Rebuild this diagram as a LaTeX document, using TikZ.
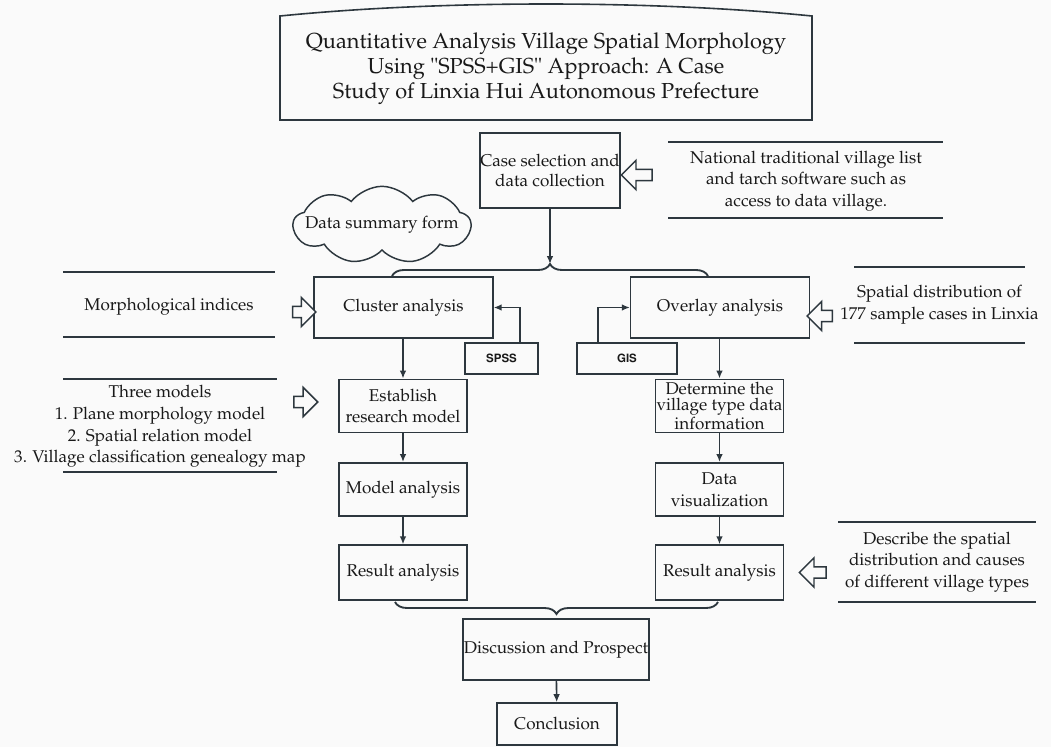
\documentclass[tikz,border=0pt]{standalone}
\usepackage[T1]{fontenc}
\usepackage{mathpazo}
\usepackage{helvet}
\usetikzlibrary{arrows.meta,shapes.arrows,shapes.symbols,decorations.pathreplacing}
\definecolor{linegray}{RGB}{45,55,62}
\definecolor{inkgray}{RGB}{25,25,25}
\definecolor{paper}{RGB}{250,250,250}
\begin{document}
\begin{tikzpicture}[x=0.75pt,y=0.75pt,yscale=-1,xscale=1,
    txt/.style={font=\fontsize{12.8}{16.2}\selectfont, text=inkgray, align=center, inner sep=0pt},
    procbox/.style={txt, draw=linegray, line width=1.2pt, minimum width=96pt, minimum height=40pt},
    toolbox/.style={draw=linegray, line width=1.2pt, font=\fontsize{8.6}{10}\selectfont\sffamily\bfseries, text=inkgray, minimum height=23pt, inner sep=0pt},
    rule/.style={draw=linegray, line width=1.2pt},
    flow/.style={draw=linegray, line width=1.2pt, -{Latex[length=6pt,width=5pt]}},
    hollow/.style={single arrow, draw=linegray, line width=1.1pt, fill=paper, minimum height=19pt, inner xsep=0pt, inner ysep=3.6pt, single arrow head extend=6.8pt, single arrow head indent=0pt},
    curly/.style={draw=linegray, line width=1.4pt, decorate, decoration={brace, amplitude=9pt}}
  ]
  % background
  \fill[paper] (0,0) rectangle (1051,747);
  \useasboundingbox (0,0) rectangle (1051,747);

  %Shape: Title card
  \draw[linegray, line width=1.2pt] (280,120) -- (280,16) .. controls (440,0) and (652,0) .. (812,16) -- (812,120) -- cycle;
  % Text Node
  \node[txt, font=\fontsize{16.3}{18.8}\selectfont] (title) at (546,69) {Quantitative Analysis Village Spatial Morphology\\ Using "SPSS+GIS" Approach: A Case\\ Study of Linxia Hui Autonomous Prefecture};

  % Case selection
  \node[procbox, minimum width=105pt, minimum height=56pt, font=\fontsize{12.8}{15.2}\selectfont] (case) at (550,170.5) {Case selection and\\ data collection};
  \node[txt] (natlist) at (806,181) {National traditional village list\\ and tarch software such as\\ access to data village.};
  \draw[rule] (668,142) -- (943,142);
  \draw[rule] (668,218) -- (943,218);
  \node[hollow, minimum height=23pt, shape border rotate=180] (natarrow) at (639.5,175) {};

  %Shape: Cloud
  \node[cloud, draw=linegray, line width=1.1pt, cloud puffs=9, cloud puff arc=105, cloud ignores aspect, minimum width=133pt, minimum height=58pt, inner sep=0pt] (summary) at (382,225) {};
  \node[txt] (summarytext) at (summary.center) {Data summary form};

  % upper brace
  \coordinate (topTip) at (550,264);
  \draw[curly] (392,276) -- (708,276);
  \draw[flow] (case.south) -- (topTip);

  % Cluster side
  \node[procbox, minimum width=134pt, minimum height=46pt] (cluster) at (403.5,307.5) {Cluster analysis};
  \node[txt] (morph) at (169,307) {Morphological indices};
  \draw[rule] (63,272) -- (275,272);
  \draw[rule] (63,337) -- (275,337);
  \node[hollow, minimum height=17.5pt] (morpharrow) at (301.5,312) {};

  \node[toolbox, minimum width=55pt] (spss) at (501.5,358.5) {SPSS};
  \draw[flow] ([xshift=13.9pt]spss.north) |- (cluster.east);

  % Overlay side
  \node[procbox, minimum width=134pt, minimum height=46pt] (overlay) at (720,307.5) {Overlay analysis};
  \node[txt] (spatial) at (939.5,305) {Spatial distribution of\\ 177 sample cases in Linxia};
  \draw[rule] (854,267) -- (1025,267);
  \draw[rule] (854,343) -- (1025,343);
  \node[hollow, minimum height=19pt, shape border rotate=180] (spatialarrow) at (822.5,316) {};

  \node[toolbox, minimum width=75pt] (gis) at (627,358.5) {GIS};
  \draw[flow] ([xshift=-21.75pt]gis.north) |- (overlay.west);

  % left column
  \node[procbox] (establish) at (403,406) {Establish\\ research model};
  \node[procbox] (modelana) at (403,489.5) {Model analysis};
  \node[procbox, minimum height=41pt] (resultL) at (403,572.5) {Result analysis};
  \node[txt] (threemodels) at (160,426.5) {Three models\\ 1. Plane morphology model\\ 2. Spatial relation model\\ 3. Village classification genealogy map};
  \draw[rule] (63,379) -- (277,379);
  \draw[rule] (63,472) -- (277,472);
  \node[hollow, minimum height=18pt] (threearrow) at (303,402) {};

  \draw[flow] (cluster.south -| establish.north) -- (establish.north);
  \draw[flow] (establish) -- (modelana);
  \draw[flow] (modelana) -- (resultL);

  % right column
  \node[procbox, font=\fontsize{12.8}{11.8}\selectfont] (determine) at (719.5,406) {Determine the\\ village type data\\ information};
  \node[procbox] (datavis) at (719.5,489.5) {Data\\ visualization};
  \node[procbox, minimum height=41pt] (resultR) at (719.5,572.5) {Result analysis};
  \node[txt] (describe) at (937,562) {Describe the spatial\\ distribution and causes\\ of different village types};
  \draw[rule] (838,522) -- (1036,522);
  \draw[rule] (838,602) -- (1036,602);
  \node[hollow, minimum height=20pt, shape border rotate=180] (describearrow) at (815.5,572.5) {};

  \draw[flow] (overlay.south -| determine.north) -- (determine.north);
  \draw[flow] (determine) -- (datavis);
  \draw[flow] (datavis) -- (resultR);

  % lower brace
  \draw[curly, decoration={mirror}] (395,602) -- (718,602);

  % ending
  \node[procbox, minimum width=139.5pt, minimum height=45.5pt] (discussion) at (556,649.5) {Discussion and Prospect};
  \node[procbox, minimum width=90pt, minimum height=31.5pt] (conclusion) at (557,724) {Conclusion};
  \draw[flow] (discussion) -- (conclusion);
\end{tikzpicture}
\end{document}
